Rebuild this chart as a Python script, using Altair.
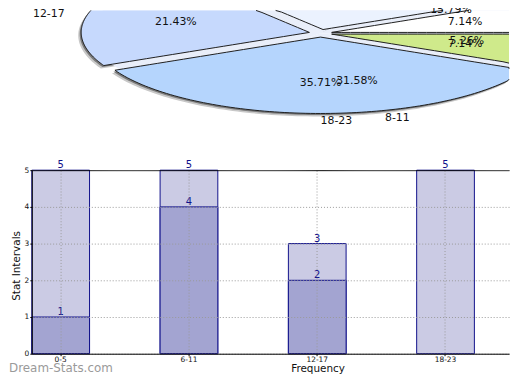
import math
import altair as alt
import pandas as pd

# ---------------- data ----------------
# Pie A (drawn on top), slices counter-clockwise from 3 o'clock
pie_a_cats = ["0-5", "6-11", "12-17", "18-23", "24+"]
pie_a_vals = [1, 4, 3, 5, 1]
pie_a_colors = ["#ffffff", "#ebf2fe", "#c6d9fd", "#b5d5fd", "#cfea8b"]
# Pie B (underneath), slices counter-clockwise from 3 o'clock
pie_b_cats = ["0-3", "4-7", "8-11", "12-15"]
pie_b_vals = [3, 9, 6, 1]

# Bar chart
bar_cats = ["0-5", "6-11", "12-17", "18-23"]
bar_light = [5, 5, 3, 5]
bar_dark = [1, 4, 2, None]

WATERMARK = "Dream-Stats.com"

# ---------------- styles / geometry ----------------
PLOT_W = 481            # plot width (window x 31..512)
PIE_H = 161             # pie panel height (window y 8..169)
BAR_H = 185
TITLE_Y = 18
CX, CY, RX, RY = 291, 23, 230, 77
EXPLODE = 0.05
PCT_R = 0.6 + EXPLODE
LBL_R = 1.1 + EXPLODE
NR, NA = 24, 100        # samples along radial edges / arc
LIGHT, DARK, NAVY = "#cbcbe4", "#a3a4d1", "#10108a"
FONT = "DejaVu Sans"
PCT_FS = 11

XMIN, XMAX = -CX / RX, (PLOT_W - CX) / RX
YMIN, YMAX = (CY - PIE_H) / RY, CY / RY
TEXT_TOP_LIMIT = 6  # label centres allowed up to this many px above the panel top

# how far the highest (partly visible) label sticks out above the panel -> negative top padding
_highest = []
for vals in (pie_a_vals, pie_b_vals):
    tot, cum = sum(vals), 0
    for v in vals:
        tm = math.pi * (2 * cum + v) / tot
        cum += v
        yp = CY - RY * PCT_R * math.sin(tm)
        if -TEXT_TOP_LIMIT <= yp:
            _highest.append(yp)
TOP_OVER = max(0, math.ceil(round(0.8 * PCT_FS) - round(0.3 * PCT_FS) - min(_highest)))

rows = []
for i, (c, v) in enumerate(zip(pie_b_cats, pie_b_vals)):
    rows.append({"pie": "B", "cat": c, "value": v, "order": i})
for i, (c, v) in enumerate(zip(pie_a_cats, pie_a_vals)):
    rows.append({"pie": "A", "cat": c, "value": v, "order": i})
pie_df = pd.DataFrame(rows)

xs = alt.Scale(domain=[-1, 1], range=[CX - RX, CX + RX], nice=False, zero=False)
ys = alt.Scale(domain=[-1, 1], range=[CY + RY, CY - RY], nice=False, zero=False)

base = (
    alt.Chart(pie_df)
    .transform_joinaggregate(total="sum(value)", groupby=["pie"])
    .transform_window(cum="sum(value)", sort=[alt.SortField("order")], groupby=["pie"])
    .transform_calculate(
        t0="2*PI*(datum.cum-datum.value)/datum.total",
        t1="2*PI*datum.cum/datum.total",
    )
    .transform_calculate(tm="(datum.t0+datum.t1)/2")
)

K = 2 * NR + NA
wedges = (
    base.transform_calculate(k=f"sequence(0,{K + 1})")
    .transform_flatten(["k"])
    .transform_calculate(
        r=f"datum.k < {NR} ? datum.k/{NR} : (datum.k <= {NR + NA} ? 1 : 1 - (datum.k-{NR + NA})/{NR})",
        a=f"datum.t0+(datum.t1-datum.t0)*clamp(datum.k-{NR},0,{NA})/{NA}",
        ex=f"datum.pie=='A' ? {EXPLODE} : 0",
        key="datum.pie + ':' + datum.cat",
    )
    .transform_calculate(
        px="datum.ex*cos(datum.tm) + datum.r*cos(datum.a)",
        py="datum.ex*sin(datum.tm) + datum.r*sin(datum.a)",
    )
    .transform_calculate(
        cx=f"clamp(datum.px,{XMIN},{XMAX})",
        cy=f"clamp(datum.py,{YMIN},{YMAX})",
        ins=f"(datum.px>={XMIN} && datum.px<={XMAX} && datum.py>={YMIN} && datum.py<={YMAX}) ? 1 : 0",
    )
)

fill_enc = dict(
    x=alt.X("cx:Q", scale=xs, axis=None),
    y=alt.Y("cy:Q", scale=ys, axis=None),
    order=alt.Order("k:Q"),
    detail=alt.Detail("key:N"),
)

pie_a_data = wedges.transform_filter("datum.pie=='A'")

shadow2 = pie_a_data.mark_line(
    fill="#c8c8c8", strokeWidth=0, xOffset=-3, yOffset=3
).encode(**fill_enc)
shadow = pie_a_data.mark_line(
    fill="#7a7a7a", strokeWidth=0, xOffset=-1.5, yOffset=1.5
).encode(**fill_enc)
pie_b = wedges.transform_filter("datum.pie=='B'").mark_line(
    fill="#e9eef9", strokeWidth=0
).encode(**fill_enc)
pie_a = pie_a_data.mark_line(strokeWidth=0).encode(
    fill=alt.Fill("cat:N", scale=alt.Scale(domain=pie_a_cats, range=pie_a_colors), legend=None),
    **fill_enc,
)
# outlines: break the path where it runs outside the visible panel
outline = (
    pie_a_data.transform_window(
        prev_in="lag(ins)", next_in="lead(ins)", groupby=["key"], sort=[alt.SortField("k")]
    )
    .transform_calculate(
        keep="(datum.ins==1 || datum.prev_in==1 || datum.next_in==1) ? 1 : 0",
    )
    .transform_calculate(
        ox="datum.keep==1 ? datum.cx : null",
        oy="datum.keep==1 ? datum.cy : null",
    )
    .mark_line(stroke="#1e1e1e", strokeWidth=1, strokeJoin="miter")
    .encode(
        x=alt.X("ox:Q", scale=xs, axis=None),
        y=alt.Y("oy:Q", scale=ys, axis=None),
        order=alt.Order("k:Q"),
        detail=alt.Detail("key:N"),
    )
)

vis_filter = (
    f"datum.lx>={XMIN} && datum.lx<={XMAX} && "
    f"datum.ly<={(CY + TEXT_TOP_LIMIT) / RY} && datum.ly>={YMIN}"
)

pct = base.transform_calculate(
    lx=f"{PCT_R}*cos(datum.tm)",
    ly=f"{PCT_R}*sin(datum.tm)",
    txt="format(datum.value/datum.total, '.2%')",
).transform_filter(vis_filter).mark_text(fontSize=PCT_FS, color="#111111", font=FONT).encode(
    x=alt.X("lx:Q", scale=xs, axis=None),
    y=alt.Y("ly:Q", scale=ys, axis=None),
    text="txt:N",
)

outer = base.transform_calculate(
    lx=f"{LBL_R}*cos(datum.tm)",
    ly=f"{LBL_R}*sin(datum.tm)",
).transform_filter(vis_filter)
outer_r = outer.transform_filter("cos(datum.tm) >= -1e-9").mark_text(
    fontSize=11, color="#111111", font=FONT, align="left"
).encode(x=alt.X("lx:Q", scale=xs, axis=None), y=alt.Y("ly:Q", scale=ys, axis=None), text="cat:N")
outer_l = outer.transform_filter("cos(datum.tm) < -1e-9").mark_text(
    fontSize=11, color="#111111", font=FONT, align="right"
).encode(x=alt.X("lx:Q", scale=xs, axis=None), y=alt.Y("ly:Q", scale=ys, axis=None), text="cat:N")

pie_panel = alt.layer(shadow2, shadow, pie_b, pie_a, outline, pct, outer_r, outer_l).properties(
    width=PLOT_W, height=PIE_H, view={"stroke": "transparent"}
)

# ---------------- bar panel ----------------
bar_df = pd.DataFrame({"cat": bar_cats, "light": bar_light, "dark": bar_dark})

x_axis = alt.Axis(
    labelAngle=0, labelFontSize=7.5, labelColor="#111", labelPadding=0, tickSize=2,
    tickColor="#000", domainColor="#000", grid=True, bandPosition=0.5,
    gridDash=[1, 2], gridColor="#9a9a9a", gridWidth=1, zindex=1,
    title="Frequency", titleFontSize=10.5, titleFontWeight="normal", titleColor="#111",
    titleBaseline="alphabetic", titleX=288, titleY=TITLE_Y,
)
y_axis = alt.Axis(
    values=[0, 1, 2, 3, 4, 5], format="d", labelFontSize=7.5, labelColor="#111",
    labelPadding=1, tickSize=2, tickColor="#000", domainColor="#000",
    grid=True,
    gridDash={"condition": {"test": "datum.value === 5", "value": [1, 0]}, "value": [1, 2]},
    gridColor={"condition": {"test": "datum.value === 5", "value": "#000000"}, "value": "#9a9a9a"},
    gridWidth=1, zindex=1,
    title="Stat Intervals", titleFontSize=10.5, titleFontWeight="normal", titleColor="#111",
    titleBaseline="alphabetic", titleX=-12.5, titleY=96, titleAngle=270,
)
X = alt.X("cat:N", sort=bar_cats,
          scale=alt.Scale(domain=bar_cats, paddingInner=0.55, paddingOuter=0.135, align=0),
          axis=x_axis, title="Frequency")
ysc = alt.Scale(domain=[0, 5], nice=False)

bars = alt.Chart(bar_df)
light_bars = bars.mark_bar(fill=LIGHT, stroke=NAVY, strokeWidth=1).encode(
    x=X, y=alt.Y("light:Q", scale=ysc, axis=y_axis, title="Stat Intervals"))
dark_bars = bars.transform_filter("isValid(datum.dark)").mark_bar(
    fill=DARK, stroke=NAVY, strokeWidth=1).encode(
    x=X, y=alt.Y("dark:Q", scale=ysc, axis=y_axis, title="Stat Intervals"))
light_lbl = bars.mark_text(baseline="alphabetic", dy=-2, fontSize=10, color=NAVY, font=FONT).encode(
    x=X, y=alt.Y("light:Q", scale=ysc, axis=y_axis, title="Stat Intervals"), text="light:Q")
dark_lbl = bars.transform_filter("isValid(datum.dark)").mark_text(
    baseline="alphabetic", dy=-2, fontSize=10, color=NAVY, font=FONT).encode(
    x=X, y=alt.Y("dark:Q", scale=ysc, axis=y_axis, title="Stat Intervals"), text="dark:Q")
wm = alt.Chart(pd.DataFrame({"t": [WATERMARK]})).mark_text(
    align="left", baseline="alphabetic", fontSize=12, color="#9a9a9a", font=FONT
).encode(x=alt.value(-23), y=alt.value(BAR_H + TITLE_Y), text="t:N")

bar_panel = alt.layer(light_bars, dark_bars, light_lbl, dark_lbl, wm).properties(
    width=PLOT_W, height=BAR_H, view={"stroke": "transparent"}
)

chart = (
    alt.vconcat(pie_panel, bar_panel, spacing=0, bounds="flush")
    .properties(padding={"top": -TOP_OVER, "left": 0, "right": 0, "bottom": 0})
    .configure(font=FONT)
    .configure_view(stroke=None)
)

chart.save("out.html", embed_options={"renderer": "svg", "actions": False})
